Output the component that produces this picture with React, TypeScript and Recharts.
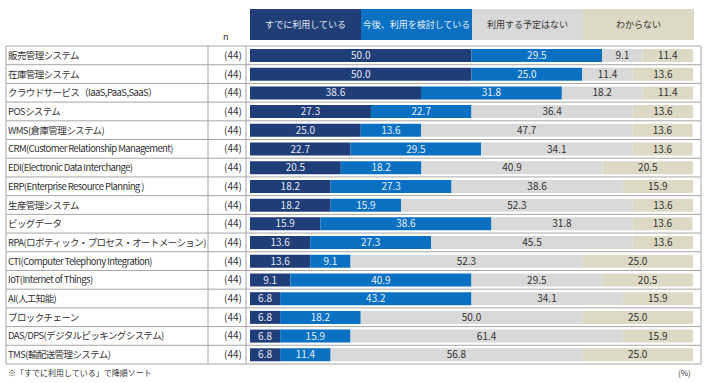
import { BarChart, Bar, XAxis, YAxis, LabelList } from 'recharts';

const categories = [
  '販売管理システム',
  '在庫管理システム',
  'クラウドサービス（IaaS,PaaS,SaaS）',
  'POSシステム',
  'WMS(倉庫管理システム)',
  'CRM(Customer Relationship Management)',
  'EDI(Electronic Data Interchange)',
  'ERP(Enterprise Resource Planning )',
  '生産管理システム',
  'ビッグデータ',
  'RPA(ロボティック・プロセス・オートメーション)',
  'CTI(Computer Telephony Integration)',
  'IoT(Internet of Things)',
  'AI(人工知能)',
  'ブロックチェーン',
  'DAS/DPS(デジタルピッキングシステム)',
  'TMS(輸配送管理システム)',
];
const counts = [44, 44, 44, 44, 44, 44, 44, 44, 44, 44, 44, 44, 44, 44, 44, 44, 44];
const alreadyUsing = [50.0, 50.0, 38.6, 27.3, 25.0, 22.7, 20.5, 18.2, 18.2, 15.9, 13.6, 13.6, 9.1, 6.8, 6.8, 6.8, 6.8];
const considering = [29.5, 25.0, 31.8, 22.7, 13.6, 29.5, 18.2, 27.3, 15.9, 38.6, 27.3, 9.1, 40.9, 43.2, 18.2, 15.9, 11.4];
const noPlan = [9.1, 11.4, 18.2, 36.4, 47.7, 34.1, 40.9, 38.6, 52.3, 31.8, 45.5, 52.3, 29.5, 34.1, 50.0, 61.4, 56.8];
const unknown = [11.4, 13.6, 11.4, 13.6, 13.6, 13.6, 20.5, 15.9, 13.6, 13.6, 13.6, 25.0, 20.5, 15.9, 25.0, 15.9, 25.0];

const series = [
  { key: 'a', name: 'すでに利用している', color: '#1F3E78', text: '#E4E8F0' },
  { key: 'b', name: '今後、利用を検討している', color: '#0A70C2', text: '#E4EEF8' },
  { key: 'c', name: '利用する予定はない', color: '#D9D9D9', text: '#333333' },
  { key: 'd', name: 'わからない', color: '#DDD9C4', text: '#333333' },
];

const data = categories.map((name, i) => ({
  name,
  n: counts[i],
  a: alreadyUsing[i],
  b: considering[i],
  c: noPlan[i],
  d: unknown[i],
}));

const W = 714;
const H = 383;
const TOP = 46;
const BOTTOM = 364;
const ROW = (BOTTOM - TOP) / categories.length;
const FONT = '"Noto Sans CJK JP", "Noto Sans", sans-serif';
const LINE = '#A6A6A6';

function RowTick(props: any) {
  const { y, payload, index } = props;
  const top = y - ROW / 2;
  const bot = y + ROW / 2;
  return (
    <g>
      <line x1={6} x2={701} y1={top} y2={top} stroke={LINE} />
      {index === categories.length - 1 && <line x1={6} x2={701} y1={bot} y2={bot} stroke={LINE} />}
      {[6, 208, 246, 701].map((x) => (
        <line key={x} x1={x} x2={x} y1={top} y2={bot} stroke={LINE} />
      ))}
      <text x={8} y={y} dy={3.5} fontSize={9.5} fill="#333" textAnchor="start" style={{ letterSpacing: -0.6 }}>
        {payload.value}
      </text>
      <text x={242} y={y} dy={3.5} fontSize={10} fill="#333" textAnchor="end">
        ({data[index].n})
      </text>
    </g>
  );
}

export default function App() {
  return (
    <div style={{ position: 'absolute', left: 0, top: 0, width: W, height: H, background: '#fff', fontFamily: FONT }}>
      <div style={{ position: 'absolute', left: 250, top: 9, width: 444, height: 31, display: 'flex' }}>
        {series.map((s) => (
          <div
            key={s.key}
            style={{
              flex: 1,
              background: s.color,
              color: s.text,
              fontSize: 9,
              display: 'flex',
              alignItems: 'center',
              justifyContent: 'center',
            }}
          >
            {s.name}
          </div>
        ))}
      </div>
      <div style={{ position: 'absolute', left: 223, top: 31, fontSize: 9, lineHeight: '11px', color: '#333' }}>n</div>
      <BarChart
        width={W}
        height={H}
        data={data}
        layout="vertical"
        margin={{ top: TOP, right: W - 693, bottom: H - BOTTOM, left: 0 }}
        barSize={13}
      >
        <XAxis type="number" domain={[0, 100]} allowDataOverflow hide />
        <YAxis
          type="category"
          dataKey="name"
          width={250}
          interval={0}
          axisLine={false}
          tickLine={false}
          tick={RowTick}
        />
        {series.map((s) => (
          <Bar key={s.key} dataKey={s.key} name={s.name} stackId="x" fill={s.color} isAnimationActive={false}>
            <LabelList
              dataKey={s.key}
              position="center"
              fill={s.text}
              fontSize={10}
              fontFamily={FONT}
              formatter={(v: any) => Number(v).toFixed(1)}
            />
          </Bar>
        ))}
      </BarChart>
      <div style={{ position: 'absolute', left: 8, top: 367, fontSize: 8, color: '#333' }}>
        ※「すでに利用している」で降順ソート
      </div>
      <div style={{ position: 'absolute', left: 678, top: 367, fontSize: 8, color: '#333' }}>(%)</div>
    </div>
  );
}
